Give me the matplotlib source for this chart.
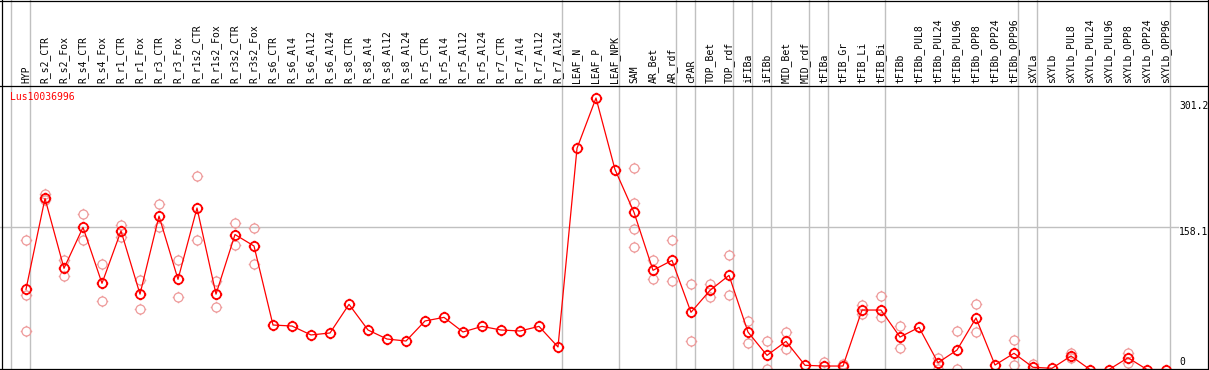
import matplotlib
matplotlib.use("Agg")
import matplotlib.pyplot as plt
import matplotlib.transforms as mtransforms
from matplotlib.path import Path
import numpy as np

# ---------------- data ----------------
categories = [
    "HYP", "R_s2_CTR", "R_s2_Fox", "R_s4_CTR", "R_s4_Fox", "R_r1_CTR", "R_r1_Fox",
    "R_r3_CTR", "R_r3_Fox", "R_r1s2_CTR", "R_r1s2_Fox", "R_r3s2_CTR", "R_r3s2_Fox",
    "R_s6_CTR", "R_s6_Al4", "R_s6_Al12", "R_s6_Al24", "R_s8_CTR", "R_s8_Al4",
    "R_s8_Al12", "R_s8_Al24", "R_r5_CTR", "R_r5_Al4", "R_r5_Al12", "R_r5_Al24",
    "R_r7_CTR", "R_r7_Al4", "R_r7_Al12", "R_r7_Al24", "LEAF_N", "LEAF_P", "LEAF_NPK",
    "SAM", "AR_Bet", "AR_rdf", "cPAR", "TOP_Bet", "TOP_rdf", "iFIBa", "iFIBb",
    "MID_Bet", "MID_rdf", "tFIBa", "tFIB_Gr", "tFIB_Li", "tFIB_Bi", "tFIBb",
    "tFIBb_PUL8", "tFIBb_PUL24", "tFIBb_PUL96", "tFIBb_OPP8", "tFIBb_OPP24",
    "tFIBb_OPP96", "sXYLa", "sXYLb", "sXYLb_PUL8", "sXYLb_PUL24", "sXYLb_PUL96",
    "sXYLb_OPP8", "sXYLb_OPP24", "sXYLb_OPP96",
]

means = [
    89.4, 190.0, 112.6, 158.0, 96.0, 154.0, 84.0, 170.5, 100.4, 179.4, 84.0, 150.0, 137.3,
    49.8, 48.7, 38.8, 41.0, 72.7, 44.3, 34.3, 32.1, 54.3, 58.3, 42.1, 48.3,
    44.3, 43.2, 48.3, 25.5, 245.5, 301.2, 222.0,
    174.6, 110.4, 121.4, 63.9, 88.2, 104.8, 42.0, 16.2,
    31.7, 5.2, 4.4, 4.4, 66.4, 66.4, 36.5,
    47.2, 8.1, 22.1, 57.6, 5.5, 18.5,
    3.0, 1.9, 15.5, 0.5, 0.5, 13.6, 0.5, 0.5,
]

replicates = [
    [144.0, 83.0, 43.0], [194.5, 188.0], [121.8, 104.5], [172.4, 144.0], [117.0, 76.4],
    [161.0, 147.6], [100.0, 68.0], [184.0, 158.7], [121.8, 80.5], [214.5, 143.6],
    [98.6, 69.4], [162.4, 138.4], [157.0, 117.4],
    [], [], [], [], [], [], [], [], [], [], [], [],
    [], [], [], [], [], [], [],
    [223.3, 184.6, 155.8, 135.8], [121.8, 100.4], [143.6, 98.6], [95.2, 32.1],
    [95.2, 80.5], [127.4, 83.0], [54.3, 29.5], [32.1, 0.8],
    [41.7, 22.9], [], [8.9], [6.6], [72.0, 61.7], [82.0, 58.3], [48.7, 24.7],
    [], [12.9, 0.8], [43.2, 0.8], [73.0, 41.7], [], [33.2, 5.5],
    [6.6], [], [18.5, 12.9], [], [], [19.2, 7.4], [], [],
]

# group separators (drawn just after these category indices)
separators = [-1, 0, 28, 31, 34, 35, 37, 38, 39, 41, 42, 45, 52, 53, 60]
ref_values = [301.2, 158.1, 0]
gene_name = "Lus10036996"

# ---------------- layout ----------------
W, H = 1209, 370
fig = plt.figure(figsize=(W / 100, H / 100), dpi=100)
ax = fig.add_axes([0, 0, 1, 1])
ax.axis("off")

x0_px, step_px = 26.0, 19.0
ax.set_xlim(-x0_px / step_px, (W - x0_px) / step_px)
px_per_unit = 0.903
ax.set_ylim(0, H / px_per_unit)

FONT = "DejaVu Sans Mono"
FS = 7
GRID = "#c0c0c0"
RED = "#ff0000"
PINK = "#ee9a9a"

blend = mtransforms.blended_transform_factory(ax.transData, ax.transAxes)
blend_ax_data = mtransforms.blended_transform_factory(ax.transAxes, ax.transData)

# vertical separators span the whole figure height
for s in separators:
    ax.axvline(s + 4.0 / step_px, color=GRID, lw=1.0, zorder=1)

# horizontal reference line at the middle value
ax.plot([0, 1178 / W], [ref_values[1]] * 2, color=GRID, lw=1.0,
        transform=blend_ax_data, zorder=1)

# frame lines
def hline_px(ypx):
    f = 1 - (ypx + 0.5) / H
    ax.plot([0, 1], [f, f], color="black", lw=0.9, transform=ax.transAxes,
            clip_on=False, zorder=5)

def vline_px(xpx):
    f = (xpx + 0.5) / W
    ax.plot([f, f], [0, 1], color="black", lw=0.9, transform=ax.transAxes,
            clip_on=False, zorder=5)

hline_px(0)
hline_px(85)
hline_px(368.6)
vline_px(1)
vline_px(1207)

# category labels
label_base = 1 - 83.0 / H
for i, c in enumerate(categories):
    ax.text(i, label_base, c, rotation=90, ha="center", va="bottom",
            transform=blend, fontsize=FS, family=FONT, color="black")

# marker: circle with four small ticks
circle = Path.unit_circle()
ticks = Path([(0, 1), (0, 1.28), (0, -1), (0, -1.28), (1, 0), (1.28, 0), (-1, 0), (-1.28, 0)],
             [Path.MOVETO, Path.LINETO] * 4)
marker = Path.make_compound_path(circle, ticks)

# replicate points
rx, ry = [], []
for i, reps in enumerate(replicates):
    for v in reps:
        rx.append(i)
        ry.append(v)
ax.plot(rx, ry, ls="none", marker=marker, ms=8.3, mfc="none", mec=PINK, mew=0.9, zorder=2)

# mean line
xs = np.arange(len(categories))
ax.plot(xs, means, color=RED, lw=0.9, marker=marker, ms=8.3, mfc="none", mec=RED,
        mew=1.3, zorder=3)

# gene name
ax.text(10 / W, 1 - 97.0 / H, gene_name, transform=ax.transAxes, ha="left", va="center",
        fontsize=FS, family=FONT, color=RED)

# value labels on the right
offsets = [-7.7, -4.4, 7.7]
for v, off in zip(ref_values, offsets):
    ax.annotate(f"{v:g}", xy=(1179 / W, v), xycoords=blend_ax_data,
                xytext=(0, off), textcoords="offset pixels", ha="left", va="center",
                fontsize=FS, family=FONT, color="black")

fig.savefig("out.png", dpi=100)
